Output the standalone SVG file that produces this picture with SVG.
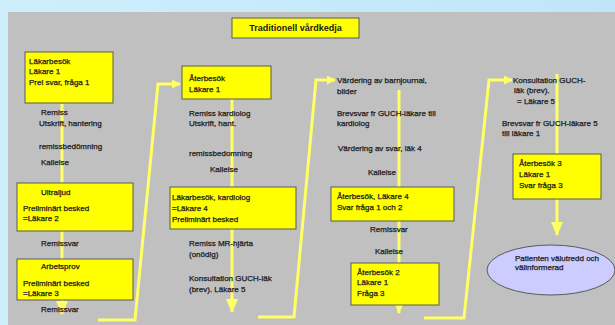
<svg xmlns="http://www.w3.org/2000/svg" width="615" height="325" viewBox="0 0 615 325">
<defs>
<linearGradient id="bg" x1="0" y1="0" x2="1" y2="0">
<stop offset="0" stop-color="#cfeefb"/>
<stop offset="1" stop-color="#bfe6f8"/>
</linearGradient>
<marker id="ah" viewBox="0 0 10 10" refX="9" refY="5" markerWidth="3" markerHeight="3" orient="auto" markerUnits="strokeWidth">
<path d="M0,0 L10,5 L0,10 Z" fill="#ffff66"/>
</marker>
<marker id="big" viewBox="0 0 14 12" refX="13" refY="6" markerWidth="4.7" markerHeight="4.4" orient="auto" markerUnits="strokeWidth">
<path d="M0,0 L14,6 L0,12 Z" fill="#ffff66"/>
</marker>
</defs>
<style>
text{font-family:"Liberation Sans",Arial,sans-serif;font-size:8px;fill:#1a1a1a;stroke:#1a1a1a;stroke-width:0.25;dominant-baseline:central}
.title{font-size:9px;font-weight:bold;text-anchor:middle;stroke-width:0}
.box{fill:#ffff00;stroke:#5a5a5a;stroke-width:1}
.line{fill:none;stroke:#ffff66;stroke-width:3}
</style>
<rect x="0" y="0" width="615" height="325" fill="url(#bg)"/>
<rect x="8" y="12" width="607" height="313" fill="#c0c0c0"/>

<g id="connectors">
<path class="line" d="M62,104 V314" marker-end="url(#big)"/>
<path class="line" d="M232,99 V312" marker-end="url(#big)"/>
<path class="line" d="M399,90 V313" marker-end="url(#big)"/>
<path class="line" d="M557,74 V235" marker-end="url(#big)"/>
<path class="line" d="M98,320 H135 L158,84 H180" marker-end="url(#ah)"/>
<path class="line" d="M258,317 H294 L316,80 H335" marker-end="url(#ah)"/>
<path class="line" d="M424,318 H464 L489,80 H512" marker-end="url(#ah)"/>
</g>

<g id="title">
<rect class="box" x="232" y="18" width="127" height="20"/>
<text class="title" x="295.5" y="28">Traditionell vårdkedja</text>
</g>

<g id="col1">
<g id="lakarbesok1">
<rect class="box" x="25" y="52" width="88" height="51"/>
<text x="29" y="61">Läkarbesök</text>
<text x="29" y="71">Läkare 1</text>
<text x="29" y="82">Prel svar, fråga 1</text>
</g>
<g id="c1text1">
<text x="41" y="112">Remiss</text>
<text x="39" y="123">Utskrift, hantering</text>
<text x="39" y="146">remissbedömning</text>
<text x="41" y="162">Kallelse</text>
</g>
<g id="ultraljud">
<rect class="box" x="17" y="183" width="116" height="48"/>
<text x="41" y="192">Ultraljud</text>
<text x="23" y="208">Preliminärt besked</text>
<text x="23" y="218">=Läkare 2</text>
</g>
<text x="41" y="243">Remissvar</text>
<g id="arbetsprov">
<rect class="box" x="17" y="259" width="116" height="41"/>
<text x="41" y="266">Arbetsprov</text>
<text x="23" y="283">Preliminärt besked</text>
<text x="23" y="293">=Läkare 3</text>
</g>
<text x="41" y="309">Remissvar</text>
</g>

<g id="col2">
<g id="aterbesok1">
<rect class="box" x="182" y="66" width="89" height="33"/>
<text x="189" y="78">Återbesök</text>
<text x="189" y="89">Läkare 1</text>
</g>
<text x="189" y="113">Remiss kardiolog</text>
<text x="189" y="123">Utskrift, hant.</text>
<text x="189" y="153">remissbedomning</text>
<text x="210" y="169">Kallelse</text>
<g id="lakarbesok-kardiolog">
<rect class="box" x="170" y="187" width="126" height="42"/>
<text x="172" y="197">Läkarbesök, kardiolog</text>
<text x="172" y="208">=Läkare 4</text>
<text x="172" y="219">Preliminärt besked</text>
</g>
<text x="189" y="243">Remiss MR-hjärta</text>
<text x="189" y="254">(onödig)</text>
<text x="189" y="278">Konsultation GUCH-läk</text>
<text x="189" y="289">(brev). Läkare 5</text>
</g>

<g id="col3">
<text x="337" y="80">Värdering av barnjournal,</text>
<text x="337" y="91">bilder</text>
<text x="337" y="113">Brevsvar fr GUCH-läkare till</text>
<text x="337" y="123">kardiolog</text>
<text x="338" y="148">Värdering av svar, läk 4</text>
<text x="368" y="172">Kallelse</text>
<g id="aterbesok-l4">
<rect class="box" x="331" y="187" width="123" height="34"/>
<text x="337" y="196">Återbesök, Läkare 4</text>
<text x="337" y="207">Svar fråga 1 och 2</text>
</g>
<text x="370" y="229">Remissvar</text>
<text x="375" y="251">Kallelse</text>
<g id="aterbesok2">
<rect class="box" x="351" y="263" width="88" height="42"/>
<text x="357" y="272">Återbesök 2</text>
<text x="357" y="282">Läkare 1</text>
<text x="357" y="293">Fråga 3</text>
</g>
</g>

<g id="col4">
<text x="513" y="80">Konsultation GUCH-</text>
<text x="514" y="90">läk (brev).</text>
<text x="517" y="101">= Läkare 5</text>
<text x="502" y="123">Brevsvar fr GUCH-läkare 5</text>
<text x="502" y="133">till läkare 1</text>
<g id="aterbesok3">
<rect class="box" x="513" y="154" width="88" height="45"/>
<text x="519" y="163">Återbesök 3</text>
<text x="519" y="174">Läkare 1</text>
<text x="519" y="185">Svar fråga 3</text>
</g>
<g id="patienten">
<ellipse cx="551" cy="270" rx="64" ry="25" fill="#ccccff" stroke="#5a5a5a" stroke-width="1"/>
<text x="515" y="258">Patienten välutredd och</text>
<text x="515" y="267">välinformerad</text>
</g>
</g>
</svg>
